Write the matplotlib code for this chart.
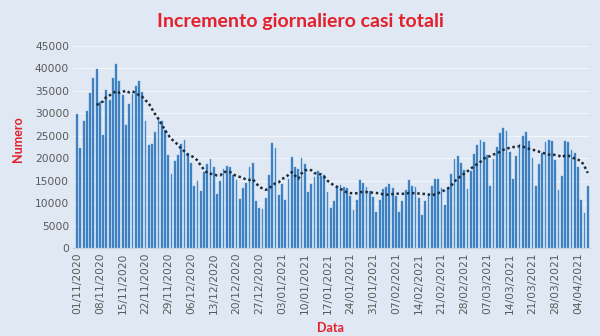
import matplotlib
matplotlib.use('Agg')
import matplotlib.pyplot as plt
import pandas as pd
import numpy as np

# nuovi casi giornalieri, dal 01/11/2020 al 07/04/2021
start_date = '2020-11-01'
nov = [29907, 22253, 28244, 30550, 34505, 37809, 39811, 32616, 25271, 35098,
       32961, 37978, 40902, 37255, 33979, 27354, 32191, 34283, 36176, 37242,
       34767, 28337, 22930, 23232, 25853, 29003, 28352, 26323, 20648, 16377]
dec = [19350, 20709, 23225, 24099, 21052, 18887, 13720, 14842, 12756, 16999,
       18727, 19903, 17938, 12030, 14844, 17572, 18236, 17992, 16308, 15104,
       10872, 13318, 14522, 18040, 19037, 10407, 8913, 8585, 11212, 16202, 23477]
jan = [22211, 11831, 14245, 10800, 15378, 20331, 18020, 17533, 19978, 18627,
       12532, 14242, 15774, 17246, 16146, 16310, 12545, 8824, 10497, 13571,
       14078, 13633, 13331, 11629, 8562, 10593, 15204, 14372, 13574, 12715, 11252]
feb = [7925, 10630, 13189, 13659, 14218, 13442, 11641, 7970, 10404, 12956,
       15146, 13908, 13532, 11068, 7351, 10386, 12074, 13762, 15479, 15270,
       13452, 9630, 13314, 16424, 19886, 20499, 18916, 17455]
mar = [13114, 17083, 20884, 22865, 24036, 23641, 20765, 13902, 19749, 22409,
       25673, 26824, 26062, 21315, 15267, 20396, 23059, 24935, 25735, 23832,
       20159, 13846, 18765, 21267, 23696, 24076, 23839, 19611, 12916, 16017, 23904]
apr = [23649, 21932, 21261, 18025, 10680, 7767, 13708]

casi = pd.Series(nov + dec + jan + feb + mar + apr)
date = pd.date_range(start_date, periods=len(casi), freq='D')
media_mobile = casi.rolling(7).mean()  # media mobile a 7 giorni

bg = '#dfe8f3'
rosso = '#e3202c'
grigio = '#595959'

fig = plt.figure(figsize=(6, 3.36), dpi=100, facecolor=bg)
ax = fig.add_axes([0.122, 0.262, 0.862, 0.601])
ax.set_facecolor(bg)

x = np.arange(len(casi))
ax.bar(x, casi, width=0.55, color='#3779bb', edgecolor='#5b9bd5', linewidth=0.3, zorder=2)
ax.plot(x, media_mobile, color='#1c2b3a', linestyle=(0, (1, 1.1)), linewidth=1.8,
        dash_capstyle='butt', zorder=3)

ax.set_ylim(0, 45000)
ax.set_yticks(range(0, 45001, 5000))
ax.set_xlim(-1.2, len(casi) - 0.2)
ax.set_xticks(x[::7])
ax.set_xticklabels([d.strftime('%d/%m/%Y') for d in date[::7]], rotation=90)
ax.tick_params(axis='both', length=0, colors=grigio, labelsize=7.7, pad=3)
ax.grid(axis='y', color='#f2f5f9', linewidth=0.8, zorder=0)

for s in ['top', 'right', 'left']:
    ax.spines[s].set_visible(False)
ax.spines['bottom'].set_color('#c9d3de')
ax.spines['bottom'].set_linewidth(0.8)

fig.text(0.5, 0.935, 'Incremento giornaliero casi totali', ha='center', va='center',
         color=rosso, fontsize=14, fontweight='bold', family='Lato')
fig.text(0.03, 0.585, 'Numero', ha='center', va='center', rotation=90,
         color=rosso, fontsize=9, fontweight='bold', family='Lato')
fig.text(0.55, 0.025, 'Data', ha='center', va='center',
         color=rosso, fontsize=9, fontweight='bold', family='Lato')

fig.savefig('out.png', dpi=100, facecolor=bg)
